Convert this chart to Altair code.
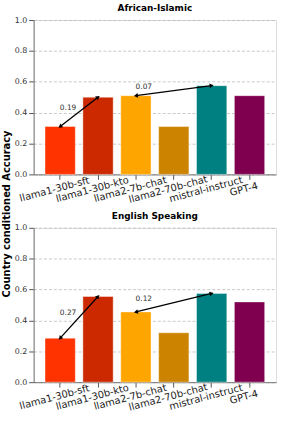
import math
import altair as alt
import pandas as pd

models = ["llama1-30b-sft", "llama1-30b-kto", "llama2-7b-chat", "llama2-70b-chat", "mistral-instruct", "GPT-4"]
colors = ["#FF3300", "#CC2900", "#FFA500", "#CC8400", "#008080", "#800050"]

panels = ["African-Islamic", "English Speaking"]
values_african = [0.31, 0.50, 0.51, 0.31, 0.575, 0.51]
values_english = [0.285, 0.555, 0.455, 0.32, 0.575, 0.52]

arrows = [("llama1-30b-sft", "llama1-30b-kto"), ("llama2-7b-chat", "mistral-instruct")]
labels_african = ["0.19", "0.07"]
labels_english = ["0.27", "0.12"]
label_y_african = [0.43, 0.565]
label_y_english = [0.45, 0.54]

y_title = "Country conditioned Accuracy"
y_ticks = [0.0, 0.2, 0.4, 0.6, 0.8, 1.0]

W, H = 245, 156
PAD_INNER, PAD_OUTER = 0.2, 0.3
STEP = W / (len(models) - PAD_INNER + 2 * PAD_OUTER)
FONT = "DejaVu Sans"

xenc = alt.X("model:N", sort=models,
             scale=alt.Scale(paddingInner=PAD_INNER, paddingOuter=PAD_OUTER),
             axis=alt.Axis(title=None, labelAngle=-15, labelAlign="center",
                           labelBaseline="top", labelFontSize=10, labelColor="#222",
                           labelOverlap=False, ticks=True, tickColor="#555",
                           domainColor="#777", grid=False, labelPadding=5,
                           labelOffset=-7))
yenc = alt.Y("value:Q", scale=alt.Scale(domain=[0, 1], nice=False),
             axis=alt.Axis(values=y_ticks, format=".1f", labelOverlap=False,
                           labelFontSize=8, labelColor="#333", tickColor="#555",
                           domainColor="#777", grid=True, gridDash=[3, 2],
                           gridColor="#bbbbbb", gridWidth=0.8, title=None))


def panel(title, values, labels, label_ys):
    df = pd.DataFrame({"model": models, "value": values})
    vmap = dict(zip(models, values))

    bars = alt.Chart(df).mark_bar(stroke="white", strokeWidth=0.6, strokeOpacity=0.7).encode(
        x=xenc, y=yenc,
        color=alt.Color("model:N", sort=models,
                        scale=alt.Scale(domain=models, range=colors), legend=None),
    )

    line_rows, head_rows, text_rows = [], [], []
    for i, (a, b) in enumerate(arrows):
        va, vb = vmap[a], vmap[b]
        line_rows += [{"model": a, "value": va, "g": i}, {"model": b, "value": vb, "g": i}]
        dx = (models.index(b) - models.index(a)) * STEP
        dy = -(vb - va) * H
        ang = math.degrees(math.atan2(dx, -dy)) % 360
        head_rows += [{"model": b, "value": vb, "ang": ang},
                      {"model": a, "value": va, "ang": (ang + 180) % 360}]
        text_rows.append({"model": a, "value": label_ys[i], "label": labels[i]})

    lines = alt.Chart(pd.DataFrame(line_rows)).mark_line(color="black", strokeWidth=1.3).encode(
        x=xenc, y=yenc, detail="g:N")
    heads = alt.Chart(pd.DataFrame(head_rows)).mark_point(
        shape="triangle-up", filled=True, color="black", size=22, opacity=1).encode(
        x=xenc, y=yenc, angle=alt.Angle("ang:Q", scale=None))
    texts = alt.Chart(pd.DataFrame(text_rows)).mark_text(
        fontSize=7.5, color="#333", dx=8, font=FONT).encode(
        x=xenc, y=yenc, text="label:N")

    return alt.layer(bars, lines, heads, texts).properties(
        width=W, height=H,
        title=alt.TitleParams(title, fontSize=9, fontWeight="bold", font=FONT,
                              color="#000", offset=3),
    )


top = panel(panels[0], values_african, labels_african, label_y_african)
bottom = panel(panels[1], values_english, labels_english, label_y_english)
panels_chart = alt.vconcat(top, bottom, spacing=6)

ytitle = alt.Chart(pd.DataFrame({"t": [y_title]})).mark_text(
    angle=270, fontSize=10, fontWeight="bold", color="#000", font=FONT,
    align="center", baseline="middle").encode(
    text="t:N", x=alt.value(7), y=alt.value(196)).properties(
    width=4, height=400, view=alt.ViewBackground(stroke=None))

chart = alt.hconcat(ytitle, panels_chart, spacing=0).properties(
    padding={"left": 0, "top": 1, "right": 4, "bottom": 2},
    background="white",
).configure_view(stroke="#777", strokeWidth=1).configure(font=FONT)

chart.save("out.html", embed_options={"renderer": "svg", "actions": False})
